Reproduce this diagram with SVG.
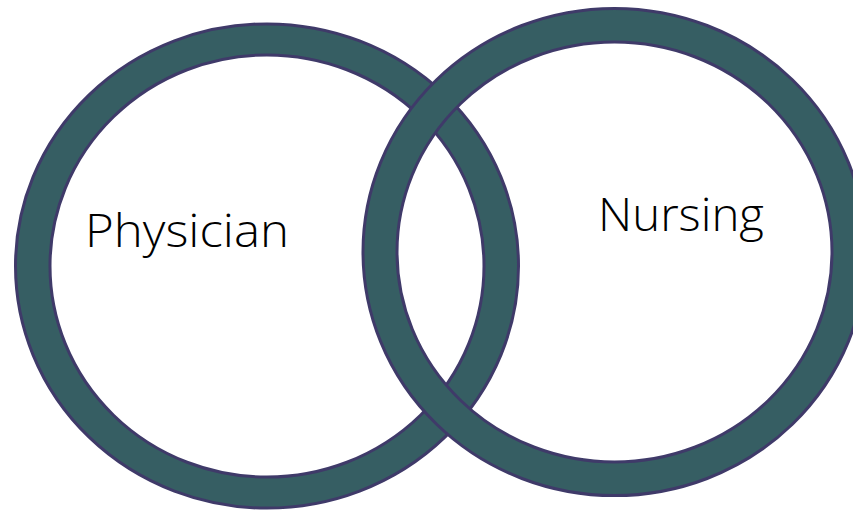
<svg xmlns="http://www.w3.org/2000/svg" width="853" height="510" viewBox="0 0 853 510">
<style>
.ring{fill:#365e63;fill-rule:evenodd;stroke:#3f3a69;stroke-width:3}
.lbl{font-family:"Open Sans","Noto Sans","Liberation Sans",sans-serif;font-weight:300;font-size:46px;fill:#000}
</style>
<rect width="853" height="510" fill="#fff"/>
<g id="physician">
<path class="ring" d="M15.5,266 a251.5,242 0 1,0 503,0 a251.5,242 0 1,0 -503,0 Z M50,266 a217,211 0 1,0 434,0 a217,211 0 1,0 -434,0 Z"/>
<text class="lbl" x="85" y="247" textLength="204" lengthAdjust="spacingAndGlyphs">Physician</text>
</g>
<g id="nursing">
<path class="ring" d="M363,252 a251.5,243.5 0 1,0 503,0 a251.5,243.5 0 1,0 -503,0 Z M397,252 a217.5,210 0 1,0 435,0 a217.5,210 0 1,0 -435,0 Z"/>
<text class="lbl" x="598" y="231" textLength="166" lengthAdjust="spacingAndGlyphs">Nursing</text>
</g>
<g id="connectors"/>
</svg>
